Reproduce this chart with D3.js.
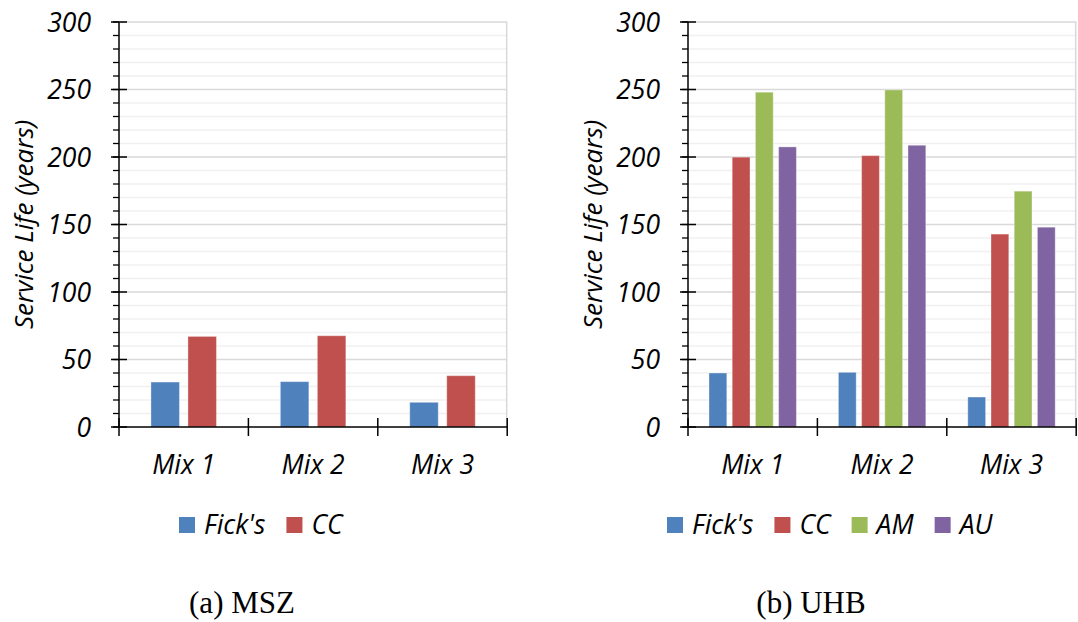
<!DOCTYPE html>
<html lang="en">
<head>
    <meta charset="UTF-8">
    <title>Service Life - MSZ and UHB</title>
    <script src="https://d3js.org/d3.v7.min.js"></script>
    <style>
        html, body {
            margin: 0;
            padding: 0;
            background: #fff;
        }
        svg {
            display: block;
        }
        .tick-label, .cat-label, .legend-label, .y-title {
            font-family: "Open Sans", sans-serif;
            font-style: italic;
            fill: #000;
        }
        .caption {
            font-family: "Liberation Serif", "Times New Roman", serif;
            fill: #000;
        }
    </style>
</head>
<body>
    <svg id="chart"></svg>

    <script>
        // data
        const categories = ["Mix 1", "Mix 2", "Mix 3"];
        const yTicks = [0, 50, 100, 150, 200, 250, 300];

        const mszSeries = ["Fick's", "CC"];
        const mszFicks = [33.3, 33.6, 18.3];
        const mszCC = [67.1, 67.6, 38.0];

        const uhbSeries = ["Fick's", "CC", "AM", "AU"];
        const uhbFicks = [40.0, 40.5, 22.2];
        const uhbCC = [199.9, 201.0, 142.9];
        const uhbAM = [248.0, 249.7, 174.7];
        const uhbAU = [207.5, 208.7, 148.0];

        const colors = {"Fick's": "#4f81bd", "CC": "#c0504d", "AM": "#9bbb59", "AU": "#8064a2"};

        const width = 1078, height = 622;
        const svg = d3.select("#chart")
            .attr("width", width)
            .attr("height", height);

        const panels = [
            {
                left: 119, caption: "(a) MSZ", captionX: 242,
                series: mszSeries, values: [mszFicks, mszCC],
                barWidth: 28.5, barGap: 8.5,
                titleX: 24, legendX: 179
            },
            {
                left: 688, caption: "(b) UHB", captionX: 811,
                series: uhbSeries, values: [uhbFicks, uhbCC, uhbAM, uhbAU],
                barWidth: 17.8, barGap: 5.4,
                titleX: 593, legendX: 667
            }
        ];

        const plotTop = 22, plotBottom = 427;
        const fontSize = 26.5;

        const y = d3.scaleLinear().domain([0, 300]).range([plotBottom, plotTop]);

        panels.forEach(p => {
            const g = svg.append("g");
            const bandW = 129.4;
            const x0 = d3.scaleBand()
                .domain(categories)
                .range([p.left, p.left + bandW * categories.length])
                .padding(0);

            const n = p.series.length;
            const groupW = n * p.barWidth + (n - 1) * p.barGap;
            const x1 = d3.scaleBand()
                .domain(p.series)
                .range([-groupW / 2, groupW / 2])
                .paddingInner(p.barGap / (p.barWidth + p.barGap))
                .paddingOuter(0);

            const plotRight = Math.min(p.left + bandW * categories.length, width);

            // minor gridlines every 10
            const minor = d3.range(10, 301, 10).filter(v => v % 50 !== 0);
            g.selectAll(".minor-grid")
                .data(minor)
                .enter()
                .append("line")
                .attr("x1", p.left)
                .attr("x2", plotRight)
                .attr("y1", d => y(d))
                .attr("y2", d => y(d))
                .attr("stroke", "#f0f0f0")
                .attr("stroke-width", 1.5);

            g.selectAll(".major-grid")
                .data(yTicks.filter(v => v > 0))
                .enter()
                .append("line")
                .attr("x1", p.left)
                .attr("x2", plotRight)
                .attr("y1", d => y(d))
                .attr("y2", d => y(d))
                .attr("stroke", "#d9d9d9")
                .attr("stroke-width", 1.5);

            // right border of plot area
            g.append("line")
                .attr("x1", plotRight - 0.5)
                .attr("x2", plotRight - 0.5)
                .attr("y1", y(300))
                .attr("y2", y(0))
                .attr("stroke", "#d9d9d9")
                .attr("stroke-width", 1.5);

            // bars
            p.series.forEach((s, si) => {
                g.selectAll(".bar-" + si)
                    .data(p.values[si])
                    .enter()
                    .append("rect")
                    .attr("x", (d, i) => x0(categories[i]) + x0.bandwidth() / 2 + x1(s))
                    .attr("y", d => y(d))
                    .attr("width", x1.bandwidth())
                    .attr("height", d => y(0) - y(d))
                    .attr("fill", colors[s])
                    .attr("stroke", "#fff")
                    .attr("stroke-opacity", 0.35)
                    .attr("stroke-width", 1);
            });

            // y axis
            const yAxis = g.append("g")
                .attr("transform", `translate(${p.left},0)`);
            yAxis.append("line")
                .attr("x1", 0).attr("x2", 0)
                .attr("y1", y(300)).attr("y2", y(0))
                .attr("stroke", "#000").attr("stroke-width", 1.5);
            yAxis.selectAll(".minor-tick")
                .data(d3.range(0, 301, 10))
                .enter()
                .append("line")
                .attr("x1", -6).attr("x2", 0)
                .attr("y1", d => y(d)).attr("y2", d => y(d))
                .attr("stroke", "#000").attr("stroke-width", 1.3);
            yAxis.selectAll(".major-tick")
                .data(yTicks)
                .enter()
                .append("line")
                .attr("x1", -8).attr("x2", 8)
                .attr("y1", d => y(d)).attr("y2", d => y(d))
                .attr("stroke", "#000").attr("stroke-width", 1.5);
            yAxis.selectAll(".tick-label")
                .data(yTicks)
                .enter()
                .append("text")
                .attr("class", "tick-label")
                .attr("x", -28)
                .attr("y", d => y(d))
                .attr("dy", "0.36em")
                .attr("text-anchor", "end")
                .attr("font-size", fontSize)
                .text(d => d);

            // x axis
            const xAxis = g.append("g");
            xAxis.append("line")
                .attr("x1", p.left).attr("x2", plotRight)
                .attr("y1", y(0)).attr("y2", y(0))
                .attr("stroke", "#000").attr("stroke-width", 1.5);
            const bounds = categories.map(c => x0(c)).concat([x0(categories[categories.length - 1]) + x0.bandwidth()]);
            xAxis.selectAll(".x-tick")
                .data(bounds.filter(b => b <= width))
                .enter()
                .append("line")
                .attr("x1", d => d).attr("x2", d => d)
                .attr("y1", y(0) - 9).attr("y2", y(0) + 9)
                .attr("stroke", "#000").attr("stroke-width", 1.5);
            xAxis.selectAll(".cat-label")
                .data(categories)
                .enter()
                .append("text")
                .attr("class", "cat-label")
                .attr("x", d => x0(d) + x0.bandwidth() / 2)
                .attr("y", 474)
                .attr("text-anchor", "middle")
                .attr("font-size", fontSize)
                .text(d => d);

            // y title
            g.append("text")
                .attr("class", "y-title")
                .attr("transform", `translate(${p.titleX},${(plotTop + plotBottom) / 2}) rotate(-90)`)
                .attr("text-anchor", "middle")
                .attr("dy", "0.35em")
                .attr("font-size", 26)
                .text("Service Life (years)");

            // legend
            const legend = g.append("g");
            let lx = p.legendX;
            p.series.forEach(s => {
                legend.append("rect")
                    .attr("x", lx)
                    .attr("y", 517)
                    .attr("width", 16)
                    .attr("height", 16)
                    .attr("fill", colors[s]);
                const t = legend.append("text")
                    .attr("class", "legend-label")
                    .attr("x", lx + 25)
                    .attr("y", 534)
                    .attr("font-size", fontSize)
                    .text(s);
                lx += 25 + t.node().getComputedTextLength() + 21;
            });

            // caption
            g.append("text")
                .attr("class", "caption")
                .attr("x", p.captionX)
                .attr("y", 613)
                .attr("text-anchor", "middle")
                .attr("font-size", 31)
                .text(p.caption);
        });
    </script>
</body>
</html>
